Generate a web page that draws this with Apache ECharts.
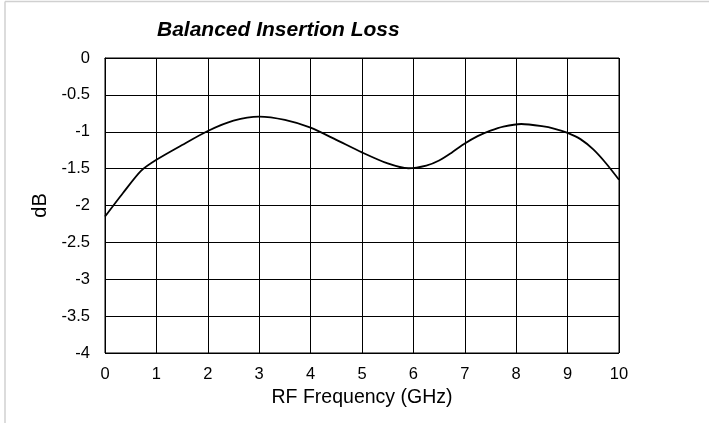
<!DOCTYPE html>
<html>
<head>
<meta charset="utf-8">
<script src="https://cdn.jsdelivr.net/npm/echarts@6/dist/echarts.min.js"></script>
<style>
  html, body { margin: 0; padding: 0; background: #fff; }
  #chart { width: 709px; height: 423px; }
</style>
</head>
<body>
<div id="chart"></div>
<script>
// frequency in GHz, loss in dB
const freqs = [0, 0.35, 0.7, 1, 1.5, 2, 2.5, 3, 3.5, 4, 4.5, 5, 5.5, 5.9, 6.25, 6.5, 6.75, 7, 7.25, 7.5, 7.75, 8.1, 8.5, 8.75, 9, 9.25, 9.5, 9.75, 10];
const loss = [-2.15, -1.83, -1.53, -1.38, -1.18, -0.99, -0.85, -0.795, -0.84, -0.945, -1.11, -1.28, -1.43, -1.495, -1.46, -1.39, -1.28, -1.16, -1.06, -0.985, -0.93, -0.895, -0.925, -0.96, -1.015, -1.10, -1.24, -1.43, -1.65];

const font = 'Liberation Sans, Arial, sans-serif';
const chart = echarts.init(document.getElementById('chart'));

chart.setOption({
    animation: false,
    title: {
        text: 'Balanced Insertion Loss',
        left: 157,
        top: 20,
        padding: 0,
        textStyle: { fontFamily: font, fontSize: 21, fontWeight: 'bold', fontStyle: 'italic', color: '#000' }
    },
    grid: { left: 105, right: 90, top: 58, bottom: 70, show: true, borderColor: '#000', borderWidth: 1 },
    xAxis: {
        type: 'value',
        min: 0, max: 10, interval: 1,
        name: 'RF Frequency (GHz)',
        nameLocation: 'middle',
        nameGap: 35,
        nameTextStyle: { fontFamily: font, fontSize: 19.5, color: '#000' },
        axisLine: { show: true, lineStyle: { color: '#000' } },
        axisTick: { show: false },
        axisLabel: { margin: 13, fontFamily: font, fontSize: 16.5, color: '#000' },
        splitLine: { show: true, lineStyle: { color: '#000', width: 1 } }
    },
    yAxis: {
        type: 'value',
        min: -4, max: 0, interval: 0.5,
        name: 'dB',
        nameLocation: 'middle',
        nameGap: 50,
        nameRotate: 90,
        nameTextStyle: { fontFamily: font, fontSize: 20, color: '#000' },
        axisLine: { show: true, lineStyle: { color: '#000' } },
        axisTick: { show: false },
        axisLabel: { margin: 15, fontFamily: font, fontSize: 16.5, color: '#000' },
        splitLine: { show: true, lineStyle: { color: '#000', width: 1 } }
    },
    graphic: [
        { type: 'line', shape: { x1: 5, y1: 1.5, x2: 709, y2: 1.5 }, style: { stroke: '#d0d0d0', lineWidth: 1.5 } },
        { type: 'line', shape: { x1: 5, y1: 1.5, x2: 5, y2: 423 }, style: { stroke: '#d0d0d0', lineWidth: 1.5 } }
    ],
    series: [{
        type: 'line',
        data: freqs.map((f, i) => [f, loss[i]]),
        smooth: 0.25,
        showSymbol: false,
        lineStyle: { color: '#000', width: 1.8 }
    }]
});
</script>
</body>
</html>
